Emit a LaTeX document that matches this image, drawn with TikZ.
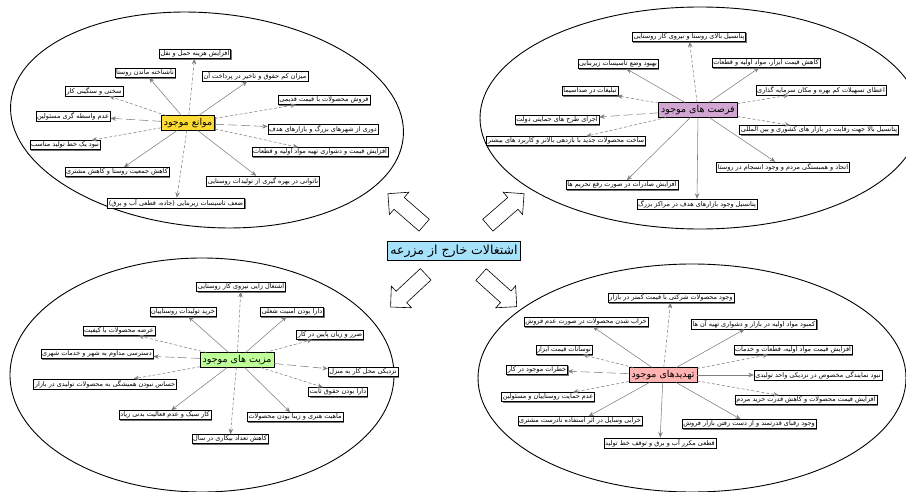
\documentclass[tikz,border=0pt]{standalone}
\usepackage{fontspec}
\usepackage{graphicx}
\newfontfamily\arabicfont[Script=Arabic]{DejaVu Sans}
\TeXXeTstate=1
\usetikzlibrary{shapes.arrows,shadows,arrows.meta}
\newcommand\rl[1]{\beginR #1\endR}
\begin{document}
\begin{tikzpicture}[x=1pt,y=-1pt,
 item/.style={draw=black, line width=0.4pt, fill=white, inner sep=1.3pt,
   font=\arabicfont\fontsize{6.5}{7}\selectfont,
   drop shadow={shadow xshift=1pt,shadow yshift=-1pt,fill=black!55,opacity=1}},
 hub/.style={draw=black, line width=0.5pt, inner sep=2.5pt,
   font=\arabicfont\fontsize{9.5}{11}\selectfont,
   drop shadow={shadow xshift=1pt,shadow yshift=-1pt,fill=black!55,opacity=1}},
 lk/.style={draw=black!50, line width=0.55pt, -{Stealth[length=5.5pt,width=4.5pt]}},
 ds/.style={lk, dash pattern=on 3pt off 2pt},
 ld/.style={lk, dash pattern=on 9pt off 4pt},
 blob/.style={draw=black, line width=0.9pt},
 bigarrow/.style={single arrow, draw=black, fill=white, line width=0.6pt,
   minimum height=48pt, inner xsep=0pt, inner ysep=7.5pt,
   single arrow head extend=7pt}]
\clip (0,0) rectangle (906,492);
\fill[white] (0,0) rectangle (906,492);
% ellipses
\draw[blob, rotate around={-5:(207,120)}] (207,120) ellipse [x radius=197, y radius=107];
\draw[blob] (700,118) ellipse [x radius=220, y radius=111];
\draw[blob] (202,375) ellipse [x radius=192, y radius=117];
\draw[blob] (692,378) ellipse [x radius=214, y radius=114];
% title and block arrows
\node[draw=black, line width=0.9pt, fill=cyan!35, inner sep=3pt,
  font=\arabicfont\fontsize{12.5}{14}\selectfont] (t) at (454,251) {\rl{اشتغالات خارج از مزرعه}};
\node[bigarrow, rotate=139] (arNW) at (409,212) {};
\node[bigarrow, rotate=41] (arNE) at (503,212) {};
\node[bigarrow, rotate=-137] (arSW) at (411,288) {};
\node[bigarrow, rotate=-42] (arSE) at (496,288) {};
% hubs
\node[hub, fill=yellow!70!orange!80] (h1) at (188,123) {\rl{موانع موجود}};
\node[hub, fill=violet!35] (h2) at (698,110) {\rl{فرصت های موجود}};
\node[hub, fill=green!50!lime!40] (h3) at (237,360) {\rl{مزیت های موجود}};
\node[hub, fill=red!30] (h4) at (663,375) {\rl{تهدیدهای موجود}};
% top-left
\node[item] (a1) at (195,54) {\rl{افزایش هزینه حمل و نقل}};
\node[item] (a2) at (145,73) {\rl{ناشناخته ماندن روستا}};
\node[item] (a3) at (255,76) {\rl{میزان کم حقوق و تاخیر در پرداخت آن}};
\node[item] (a4) at (94,91) {\rl{سختی و سنگینی کار}};
\node[item] (a5) at (73,116) {\rl{عدم واسطه گری مسئولین}};
\node[item] (a6) at (324,100) {\rl{فروش محصولات با قیمت قدیمی}};
\node[item] (a7) at (323,129) {\rl{دوری از شهرهای بزرگ و بازارهای هدف}};
\node[item] (a8) at (320,152) {\rl{افزایش قیمت و دشواری تهیه مواد اولیه و قطعات}};
\node[item] (a9) at (65,145) {\rl{نبود یک خط تولید مناسب}};
\node[item] (a10) at (117,172) {\rl{کاهش جمعیت روستا و کاهش مشتری}};
\node[item] (a11) at (263,181) {\rl{ناتوانی در بهره گیری از تولیدات روستایی}};
\node[item] (a12) at (176,203) {\rl{ضعف تاسیسات زیربنایی (جاده، قطعی آب و برق)}};
\draw[ds] (h1) -- (a1);
\draw[lk] (h1) -- (a2);
\draw[lk] (h1) -- (a3);
\draw[ds] (h1) -- (a4);
\draw[ld] (h1) -- (a5);
\draw[ds] (h1) -- (a6);
\draw[ld] (h1) -- (a7);
\draw[ds] (h1) -- (a8);
\draw[ds] (h1) -- (a9);
\draw[lk] (h1) -- (a10);
\draw[lk] (h1) -- (a11);
\draw[ds] (h1) -- (a12);
% top-right
\node[item] (b1) at (689,37) {\rl{پتانسیل بالای روستا و نیروی کار روستایی}};
\node[item] (b2) at (618,64) {\rl{بهبود وضع تاسیسات زیربنایی}};
\node[item] (b3) at (766,63) {\rl{کاهش قیمت ابزار، مواد اولیه و قطعات}};
\node[item] (b4) at (590,91) {\rl{تبلیغات در صداسیما}};
\node[item] (b5) at (821,90) {\rl{اعطای تسهیلات کم بهره و مکان سرمایه گذاری}};
\node[item] (b6) at (557,120) {\rl{اجرای طرح های حمایتی دولت}};
\node[item] (b7) at (819,130) {\rl{پتانسیل بالا جهت رقابت در بازار های کشوری و بین المللی}};
\node[item] (b8) at (566,141) {\rl{ساخت محصولات جدید با بازدهی بالاتر و کاربرد های بیشتر}};
\node[item] (b9) at (783,167) {\rl{اتحاد و همبستگی مردم و وجود انسجام در روستا}};
\node[item] (b10) at (622,185) {\rl{افزایش صادرات در صورت رفع تحریم ها}};
\node[item] (b11) at (697,204) {\rl{پتانسیل وجود بازارهای هدف در مراکز بزرگ}};
\draw[ds] (h2) -- (b1);
\draw[lk] (h2) -- (b2);
\draw[lk] (h2) -- (b3);
\draw[ds] (h2) -- (b4);
\draw[ds] (h2) -- (b5);
\draw[ld] (h2) -- (b6);
\draw[ds] (h2) -- (b7);
\draw[ds] (h2) -- (b8);
\draw[lk] (h2) -- (b9);
\draw[lk] (h2) -- (b10);
\draw[lk] (h2) -- (b11);
% bottom-left
\node[item] (c1) at (241,287) {\rl{اشتغال زایی نیروی کار روستایی}};
\node[item] (c2) at (183,312) {\rl{خرید تولیدات روستاییان}};
\node[item] (c3) at (292,312) {\rl{دارا بودن امنیت شغلی}};
\node[item] (c4) at (119,331) {\rl{عرضه محصولات با کیفیت}};
\node[item] (c5) at (330,335) {\rl{ضرر و زیان پایین در کار}};
\node[item] (c6) at (97,354) {\rl{دسترسی مداوم به شهر و خدمات شهری}};
\node[item] (c7) at (363,372) {\rl{نزدیکی محل کار به منزل}};
\node[item] (c8) at (105,384) {\rl{حساس نبودن همیشگی به محصولات تولیدی در بازار}};
\node[item] (c9) at (338,392) {\rl{دارا بودن حقوق ثابت}};
\node[item] (c10) at (165,415) {\rl{کار سبک و عدم فعالیت بدنی زیاد}};
\node[item] (c11) at (295,417) {\rl{ماهیت هنری و زیبا بودن محصولات}};
\node[item] (c12) at (230,439) {\rl{کاهش تعداد بیکاری در سال}};
\draw[ds] (h3) -- (c1);
\draw[lk] (h3) -- (c2);
\draw[lk] (h3) -- (c3);
\draw[ds] (h3) -- (c4);
\draw[ds] (h3) -- (c5);
\draw[ld] (h3) -- (c6);
\draw[ld] (h3) -- (c7);
\draw[ds] (h3) -- (c8);
\draw[ds] (h3) -- (c9);
\draw[lk] (h3) -- (c10);
\draw[lk] (h3) -- (c11);
\draw[ds] (h3) -- (c12);
% bottom-right
\node[item] (d1) at (671,298) {\rl{وجود محصولات شرکتی با قیمت کمتر در بازار}};
\node[item] (d2) at (586,322) {\rl{خراب شدن محصولات در صورت عدم فروش}};
\node[item] (d3) at (754,324) {\rl{کمبود مواد اولیه در بازار و دشواری تهیه آن ها}};
\node[item] (d4) at (564,350) {\rl{نوسانات قیمت ابزار}};
\node[item] (d5) at (793,350) {\rl{افزایش قیمت مواد اولیه، قطعات و خدمات}};
\node[item] (d6) at (537,370) {\rl{خطرات موجود در کار}};
\node[item] (d7) at (818,375) {\rl{نبود نمایندگی مخصوص در نزدیکی واحد تولیدی}};
\node[item] (d8) at (806,400) {\rl{افزایش قیمت محصولات و کاهش قدرت خرید مردم}};
\node[item] (d9) at (548,397) {\rl{عدم حمایت روستاییان و مسئولین}};
\node[item] (d10) at (580,421) {\rl{خرابی وسایل در اثر استفاده نادرست مشتری}};
\node[item] (d11) at (749,424) {\rl{وجود رقبای قدرتمند و از دست رفتن بازار فروش}};
\node[item] (d12) at (660,443) {\rl{قطعی مکرر آب و برق و توقف خط تولید}};
\draw[ds] (h4) -- (d1);
\draw[lk] (h4) -- (d2);
\draw[lk] (h4) -- (d3);
\draw[ds] (h4) -- (d4);
\draw[ds] (h4) -- (d5);
\draw[ld] (h4) -- (d6);
\draw[lk] (h4) -- (d7);
\draw[ds] (h4) -- (d8);
\draw[ds] (h4) -- (d9);
\draw[lk] (h4) -- (d10);
\draw[lk] (h4) -- (d11);
\draw[lk] (h4) -- (d12);
\end{tikzpicture}
\end{document}
